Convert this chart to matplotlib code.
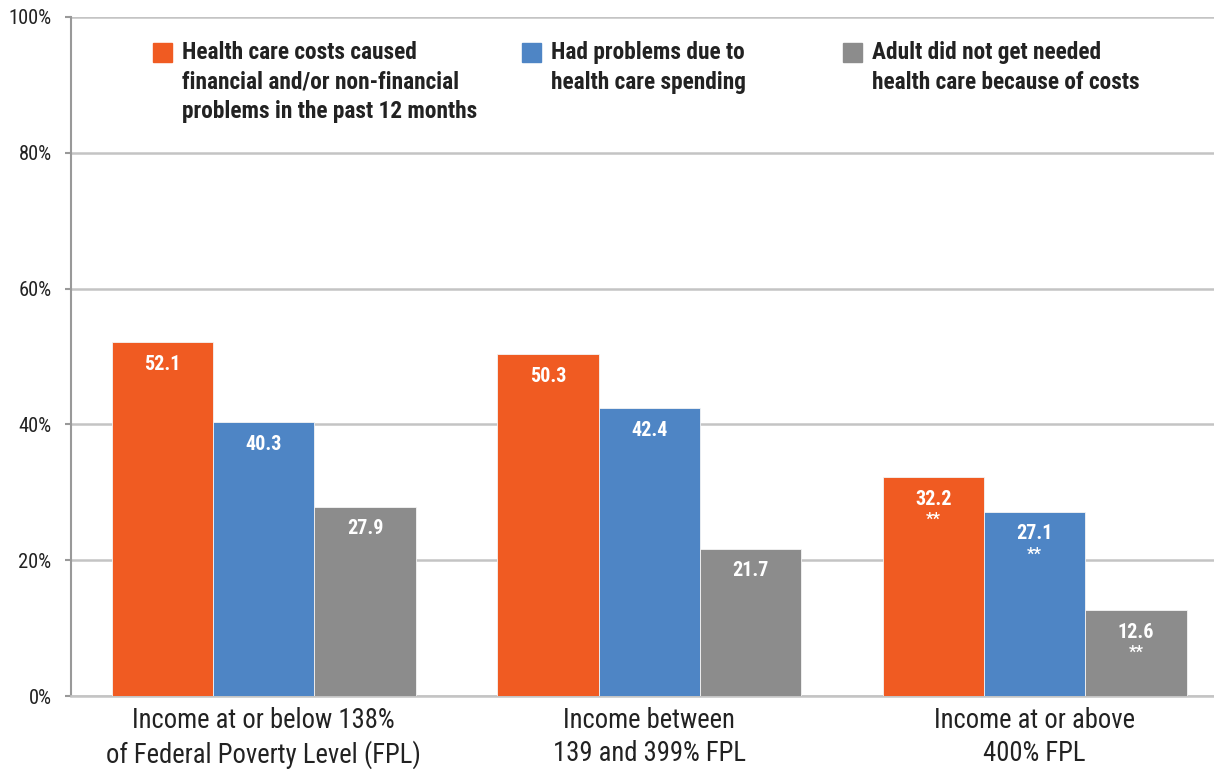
import numpy as np
import matplotlib
matplotlib.use("Agg")
import matplotlib.pyplot as plt
from matplotlib import font_manager

# data
categories = ["Income at or below 138%\nof Federal Poverty Level (FPL)",
              "Income between\n139 and 399% FPL",
              "Income at or above\n400% FPL"]
series_names = ["Health care costs caused\nfinancial and/or non-financial\nproblems in the past 12 months",
                "Had problems due to\nhealth care spending",
                "Adult did not get needed\nhealth care because of costs"]
costs_problems = [52.1, 50.3, 32.2]
spending_problems = [40.3, 42.4, 27.1]
unmet_need = [27.9, 21.7, 12.6]
significant = [False, False, True]
yticks = [0, 20, 40, 60, 80, 100]

colors = ["#F05B22", "#4E85C5", "#8C8C8C"]

# narrow font if one is installed, else shrink Liberation Sans
names = set(f.name for f in font_manager.fontManager.ttflist)
narrow = [n for n in ["Liberation Sans Narrow", "Roboto Condensed", "Open Sans Condensed"] if n in names]
if narrow:
    plt.rcParams['font.family'] = [narrow[0], "DejaVu Sans"]
    k = 1.0
else:
    plt.rcParams['font.family'] = ["Liberation Sans", "DejaVu Sans"]
    k = 0.91

fig = plt.figure(figsize=(12.14, 7.69), dpi=100)
ax = fig.add_axes([71/1214, 1-696/769, 1-71/1214, (696-17)/769])

x = np.arange(len(categories))
w = 0.263
values = [costs_problems, spending_problems, unmet_need]
for i, (vals, c) in enumerate(zip(values, colors)):
    pos = x + (i-1)*w
    ax.bar(pos, vals, width=w, color=c, edgecolor="#f4f4f4", linewidth=0.6, zorder=3)
    for xp, v, s in zip(pos, vals, significant):
        ax.annotate(f"{v:.1f}", (xp, v), xytext=(0, -22), textcoords="offset pixels",
                    ha="center", va="center", color="white", fontsize=14.5*k,
                    fontweight="bold", zorder=4)
        if s:
            ax.annotate("**", (xp, v), xytext=(0, -42), textcoords="offset pixels",
                        ha="center", va="center", color="white", fontsize=12,
                        fontweight="bold", zorder=4)

ax.set_ylim(0, 100)
ax.set_xlim(-0.5, 2.465)
ax.set_yticks(yticks)
ax.set_yticklabels([f"{t}%" for t in yticks], fontsize=14.8*k, color="#222222")
ax.set_xticks(x)
ax.set_xticklabels(categories, fontsize=19.2*k, color="#222222", linespacing=1.28)
ax.tick_params(axis="x", length=0, pad=8)
ax.tick_params(axis="y", length=4, width=1.5, color="#999999", pad=10)
ax.yaxis.grid(True, color="#c4c4c4", linewidth=1.8, zorder=0)
for sp in ["top", "right"]:
    ax.spines[sp].set_visible(False)
ax.spines["left"].set_color("#999999")
ax.spines["left"].set_linewidth(1.5)
ax.spines["bottom"].set_color("#c4c4c4")
ax.spines["bottom"].set_linewidth(1.8)

# legend drawn by hand in figure pixels
leg_x = [153, 522, 843]
for lx, name, c in zip(leg_x, series_names, colors):
    fig.patches.append(plt.Rectangle((lx/1214, 1-62/769), 19/1214, 19/769,
                                     transform=fig.transFigure, color=c))
    fig.text((lx+29)/1214, 1-41/769, name, ha="left", va="top", fontsize=16.8*k,
             fontweight="bold", color="#222222", linespacing=1.37)

fig.savefig("out.png", dpi=100)
